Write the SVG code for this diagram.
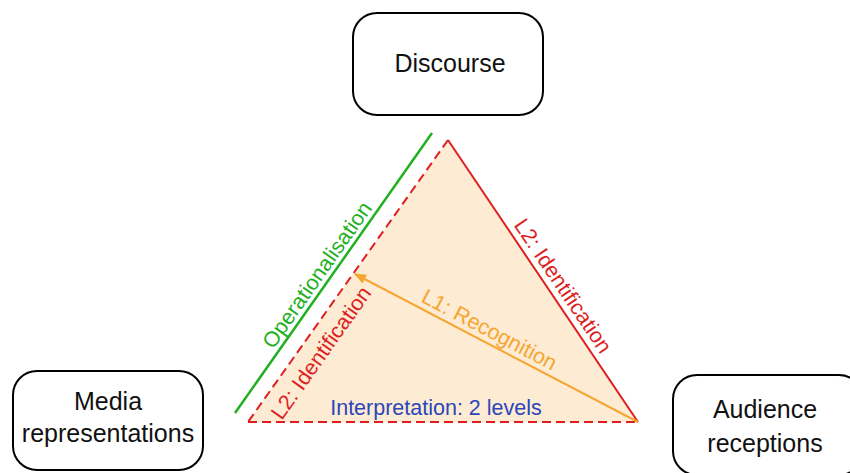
<svg xmlns="http://www.w3.org/2000/svg" width="850" height="473" viewBox="0 0 850 473">
  <style>
    .box { fill: #ffffff; stroke: #000000; stroke-width: 2; }
    .boxtext { font-family: "Liberation Sans", Arial, sans-serif; font-size: 25px; fill: #111111; text-anchor: middle; }
    .lbl { font-family: "Liberation Sans", Arial, sans-serif; font-size: 21.5px; text-anchor: middle; }
  </style>
  <defs>
    <marker id="arrowOrange" viewBox="0 0 12 10" refX="11" refY="5" markerWidth="13" markerHeight="10" orient="auto" markerUnits="userSpaceOnUse">
      <path d="M0,0 L12,5 L0,10 z" fill="#f7a530"/>
    </marker>
  </defs>
  <rect width="850" height="473" fill="#ffffff"/>

  <!-- interpretation triangle -->
  <g id="triangle">
    <polygon points="448,140 638,422 248,422" fill="#fdebd3" stroke="none"/>
    <line x1="448" y1="140" x2="638" y2="422" stroke="#dd1f1f" stroke-width="2"/>
    <line x1="448" y1="140" x2="248" y2="422" stroke="#dd1f1f" stroke-width="2" stroke-dasharray="9,5"/>
    <line x1="248" y1="422" x2="638" y2="422" stroke="#dd1f1f" stroke-width="2" stroke-dasharray="9,5"/>
  </g>

  <!-- connectors -->
  <g id="connectors">
    <line x1="235" y1="413" x2="432" y2="133" stroke="#22b022" stroke-width="2.5"/>
    <line x1="638" y1="422" x2="355" y2="274" stroke="#f7a530" stroke-width="2" marker-end="url(#arrowOrange)"/>
  </g>

  <!-- labels -->
  <g id="labels">
    <text class="lbl" fill="#22b022" transform="translate(323,279) rotate(-54.9)">Operationalisation</text>
    <text class="lbl" fill="#dd1f1f" transform="translate(327,357) rotate(-54.7)">L2: Identification</text>
    <text class="lbl" fill="#f7a530" transform="translate(486,336) rotate(27.8)">L1: Recognition</text>
    <text class="lbl" fill="#dd1f1f" transform="translate(557,290) rotate(56)">L2: Identification</text>
    <text class="lbl" fill="#2b47b8" x="436" y="415">Interpretation: 2 levels</text>
  </g>

  <g id="discourse">
    <rect class="box" x="353" y="13" width="190" height="102" rx="24"/>
    <text class="boxtext" x="450" y="72">Discourse</text>
  </g>
  <g id="media">
    <rect class="box" x="13" y="371" width="190" height="99" rx="24"/>
    <text class="boxtext" x="108" y="410">Media</text>
    <text class="boxtext" x="108" y="442">representations</text>
  </g>
  <g id="audience">
    <rect class="box" x="673" y="375" width="190" height="100" rx="24"/>
    <text class="boxtext" x="765" y="418">Audience</text>
    <text class="boxtext" x="765" y="452">receptions</text>
  </g>
</svg>
